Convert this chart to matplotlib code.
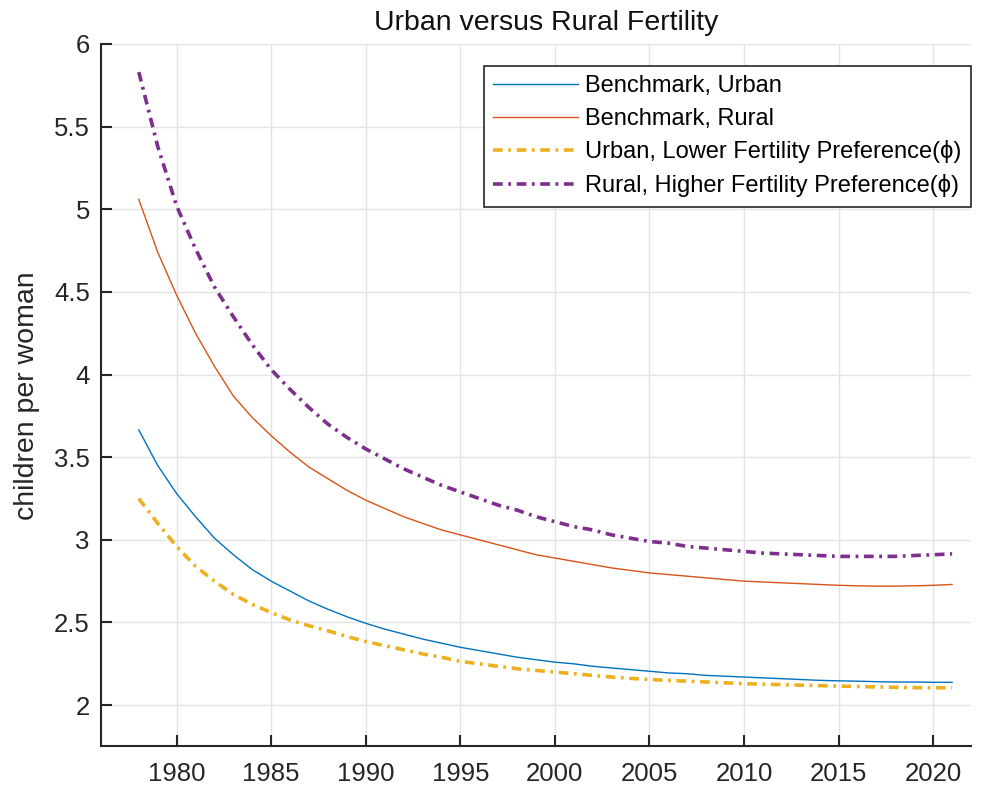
import numpy as np
import matplotlib.pyplot as plt

plt.rcParams['font.family'] = ['Liberation Sans', 'DejaVu Sans']
plt.rcParams['lines.scale_dashes'] = False

years = np.arange(1978, 2022)

urban_bench = [3.665, 3.45, 3.28, 3.14, 3.01, 2.91, 2.82, 2.75, 2.69, 2.63,
               2.58, 2.535, 2.495, 2.46, 2.43, 2.40, 2.375, 2.35, 2.33, 2.31,
               2.29, 2.275, 2.26, 2.25, 2.235, 2.225, 2.215, 2.205, 2.195, 2.19,
               2.18, 2.175, 2.17, 2.165, 2.16, 2.155, 2.15, 2.147, 2.145, 2.142,
               2.14, 2.14, 2.138, 2.138]

rural_bench = [5.06, 4.74, 4.48, 4.25, 4.05, 3.87, 3.74, 3.63, 3.53, 3.44,
               3.37, 3.30, 3.24, 3.19, 3.14, 3.10, 3.06, 3.03, 3.00, 2.97,
               2.94, 2.91, 2.89, 2.87, 2.85, 2.83, 2.815, 2.80, 2.79, 2.78,
               2.77, 2.76, 2.75, 2.745, 2.74, 2.735, 2.73, 2.725, 2.722, 2.72,
               2.72, 2.722, 2.725, 2.73]

urban_low = [3.25, 3.10, 2.96, 2.84, 2.75, 2.67, 2.61, 2.56, 2.515, 2.48,
             2.45, 2.415, 2.385, 2.36, 2.335, 2.31, 2.29, 2.265, 2.25, 2.235,
             2.22, 2.21, 2.20, 2.19, 2.18, 2.17, 2.162, 2.155, 2.15, 2.145,
             2.14, 2.135, 2.13, 2.127, 2.124, 2.121, 2.118, 2.115, 2.113, 2.11,
             2.108, 2.106, 2.105, 2.105]

rural_high = [5.83, 5.38, 5.02, 4.76, 4.53, 4.35, 4.18, 4.03, 3.91, 3.80,
              3.70, 3.62, 3.55, 3.49, 3.43, 3.38, 3.33, 3.29, 3.25, 3.21,
              3.18, 3.14, 3.11, 3.08, 3.06, 3.03, 3.01, 2.99, 2.98, 2.96,
              2.95, 2.94, 2.93, 2.92, 2.915, 2.91, 2.905, 2.90, 2.90, 2.90,
              2.90, 2.905, 2.91, 2.915]

fig = plt.figure(figsize=(9.88, 7.91), dpi=100)
ax = fig.add_axes([0.1022, 0.0563, 0.8806, 0.8881])

dashdot = (0, (7, 4, 2, 4))
ax.plot(years, urban_bench, color='#0072BD', lw=1.0, label='Benchmark, Urban')
ax.plot(years, rural_bench, color='#D95319', lw=1.0, label='Benchmark, Rural')
ax.plot(years, urban_low, color='#EDB120', lw=2.6, linestyle=dashdot,
        label='Urban, Lower Fertility Preference(ϕ)')
ax.plot(years, rural_high, color='#7E2F8E', lw=2.6, linestyle=dashdot,
        label='Rural, Higher Fertility Preference(ϕ)')

ax.set_xlim(1976, 2022)
ax.set_ylim(1.75, 6)
ax.set_xticks(np.arange(1980, 2021, 5))
ax.set_yticks([2, 2.5, 3, 3.5, 4, 4.5, 5, 5.5, 6])
ax.set_yticklabels(['2', '2.5', '3', '3.5', '4', '4.5', '5', '5.5', '6'])

ax.grid(True, color='#e3e3e3', lw=1.0)
ax.set_axisbelow(True)
for s in ['top', 'right']:
    ax.spines[s].set_visible(False)
for s in ['left', 'bottom']:
    ax.spines[s].set_color('#262626')
    ax.spines[s].set_linewidth(1.5)
ax.tick_params(direction='in', length=8, width=1.5, color='#262626',
               labelsize=18.5, labelcolor='#262626')
ax.tick_params(axis='x', pad=11)
ax.tick_params(axis='y', pad=8)

ax.set_title('Urban versus Rural Fertility', fontsize=20.5, color='#111111',
             x=0.512, pad=10)
ax.set_ylabel('children per woman', fontsize=20.5, color='#262626', labelpad=10)

leg = ax.legend(loc='upper right', bbox_to_anchor=(1.0, 0.969), fontsize=17,
                handlelength=3.6, handletextpad=0.3, borderpad=0.4,
                labelspacing=0.45, borderaxespad=0, fancybox=False,
                framealpha=1)
leg.get_frame().set_edgecolor('#262626')
leg.get_frame().set_linewidth(1.2)

fig.savefig('out.png', dpi=100)
